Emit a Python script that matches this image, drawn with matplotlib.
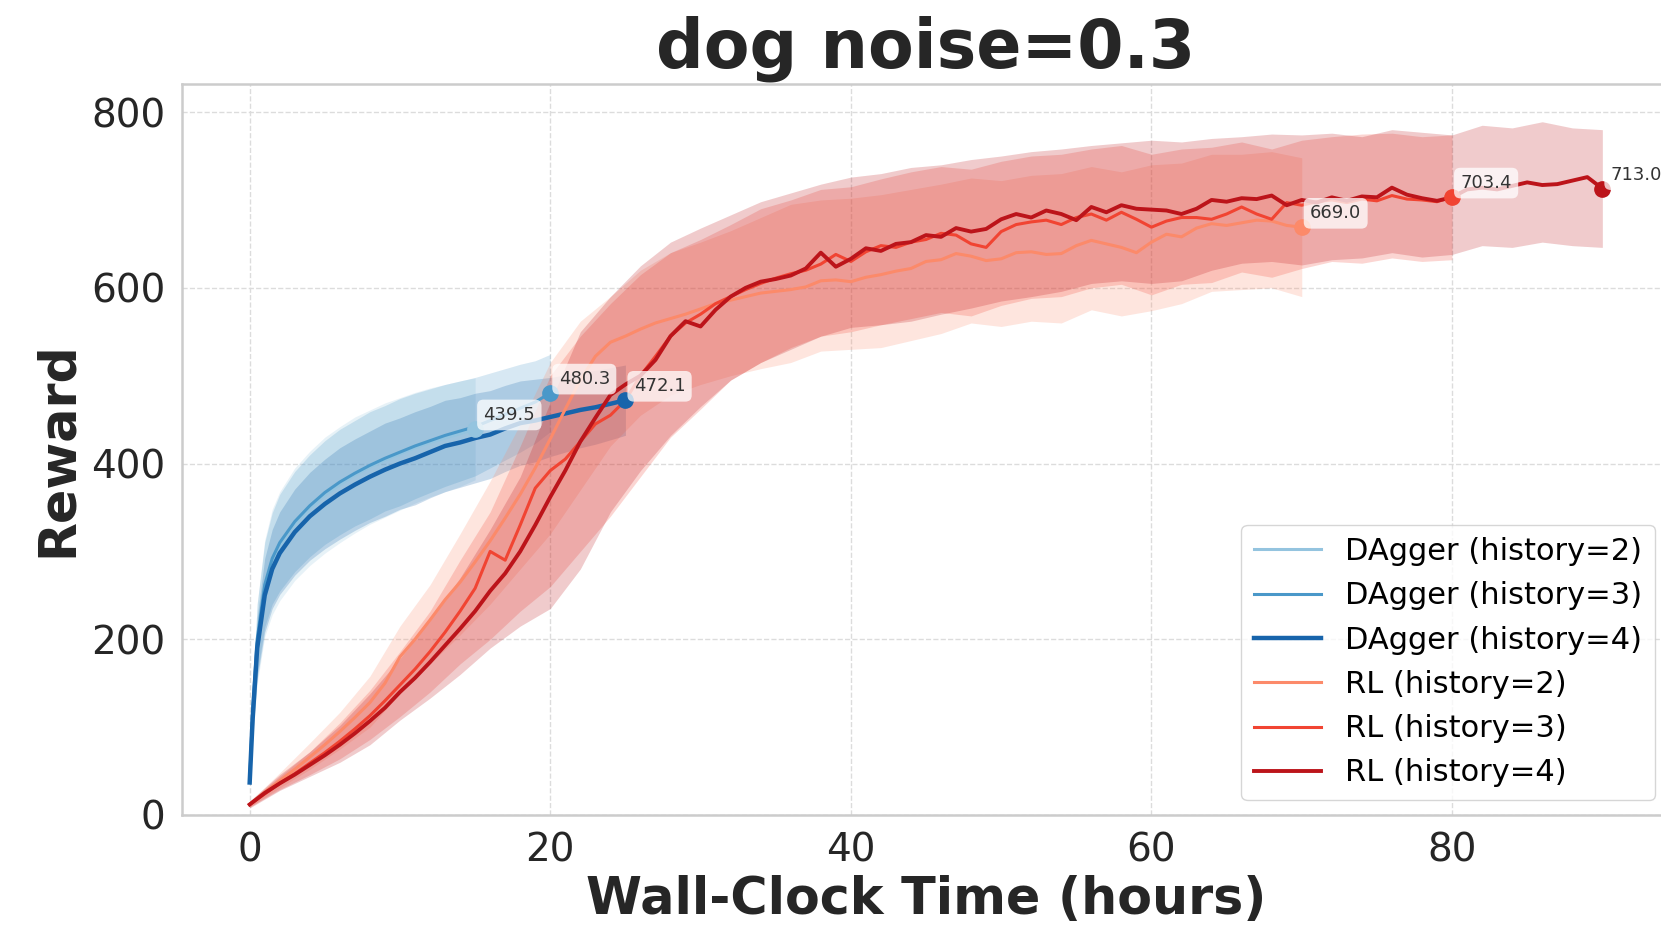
import numpy as np
import matplotlib
matplotlib.use("Agg")
import matplotlib.pyplot as plt

# ---- DAgger runs (mean reward, std over seeds) ----
dagger_t2 = [0, 0.2, 0.5, 1, 1.5] + list(range(2, 16))
dagger_m2 = [38, 115, 195, 258, 288, 306, 331, 349, 364, 376, 387, 396, 404, 411,
             418, 424, 429, 434, 439.5]
dagger_s2 = [6, 28, 46, 55, 60, 62, 64, 65, 66, 66, 66, 65, 65, 64, 63, 62, 61, 60, 58]

dagger_t3 = [0, 0.2, 0.5, 1, 1.5] + list(range(2, 21))
dagger_m3 = [40, 120, 200, 262, 292, 310, 334, 352, 367, 379, 389, 398, 406, 413,
             420, 426, 432, 437, 442, 449, 456, 463, 470, 480.3]
dagger_s3 = [5, 24, 40, 48, 52, 55, 57, 58, 59, 60, 60, 61, 60, 61, 60, 59, 58, 57,
             56, 54, 52, 50, 47, 44]

dagger_t4 = [0, 0.2, 0.5, 1, 1.5] + list(range(2, 26))
dagger_m4 = [37, 110, 190, 250, 280, 298, 322, 340, 354, 366, 376, 385, 393, 400,
             406, 413, 420, 424, 429, 433, 440, 446, 449, 453, 457, 461, 464, 468, 472.1]
dagger_s4 = [4, 20, 35, 42, 45, 47, 49, 50, 51, 52, 52, 52, 53, 52, 53, 52, 52, 51,
             51, 50, 49, 48, 47, 45, 44, 43, 42, 41, 40]

# ---- RL runs: hourly mean reward ----
rl_m2 = [12, 26, 39, 52, 66, 80, 95, 111, 128, 150, 180, 200, 222, 245, 265, 288,
         312, 338, 365, 395, 428, 462, 495, 522, 538, 545, 553, 560, 565, 570, 576,
         582, 586, 590, 594, 596, 598, 601, 608, 609, 607, 612, 615, 619, 622, 630,
         632, 639, 636, 631, 633, 640, 641, 638, 639, 648, 654, 650, 646, 640, 652,
         661, 658, 668, 673, 671, 674, 677, 676, 671, 669.0]
rl_m3 = [12, 24, 36, 47, 59, 71, 84, 98, 113, 130, 148, 166, 186, 208, 232, 258,
         300, 290, 330, 372, 392, 405, 425, 445, 455, 472, 500, 522, 545, 560, 570,
         582, 590, 598, 605, 611, 616, 620, 627, 638, 630, 641, 648, 646, 652, 655,
         662, 660, 650, 646, 664, 672, 675, 677, 672, 680, 684, 677, 686, 678, 669,
         676, 680, 680, 678, 684, 692, 684, 678, 697, 694, 698, 700, 697, 701, 699,
         705, 701, 700, 698, 703.4]
rl_m4 = [12, 25, 36, 46, 57, 68, 80, 93, 107, 122, 140, 156, 174, 193, 212, 232,
         255, 275, 300, 330, 362, 392, 425, 452, 478, 490, 500, 518, 545, 562, 556,
         575, 590, 600, 607, 610, 614, 622, 640, 624, 633, 645, 642, 650, 652, 660,
         658, 668, 664, 667, 678, 684, 680, 688, 684, 677, 692, 686, 694, 690, 689,
         688, 684, 690, 700, 698, 702, 701, 705, 694, 700, 697, 703, 699, 704, 703,
         714, 706, 702, 699, 703, 712, 714, 712, 716, 720, 717, 718, 722, 726, 713.0]

# ---- RL spread (lower / upper edge, every 2 hours) ----
rl_lo2 = [9, 31, 52, 75, 100, 138, 172, 205, 240, 280, 320, 370, 420, 455, 478,
          490, 500, 508, 515, 528, 530, 532, 540, 548, 560, 556, 562, 560, 575, 568,
          574, 582, 596, 598, 600, 590]
rl_hi2 = [15, 48, 82, 117, 158, 215, 262, 320, 380, 445, 515, 562, 590, 620, 640,
          652, 665, 680, 695, 700, 702, 706, 712, 718, 725, 722, 728, 730, 738, 732,
          740, 742, 752, 752, 755, 748]
rl_lo3 = [9, 29, 46, 64, 86, 112, 140, 172, 200, 232, 260, 300, 340, 385, 430,
          462, 495, 515, 532, 545, 550, 558, 565, 572, 568, 580, 588, 590, 600, 604,
          592, 604, 606, 618, 612, 622, 630, 628, 634, 630, 632]
rl_hi3 = [15, 44, 72, 105, 142, 186, 232, 290, 345, 420, 500, 545, 582, 615, 640,
          655, 672, 690, 700, 712, 715, 724, 732, 738, 735, 744, 750, 752, 758, 762,
          752, 758, 760, 766, 758, 768, 772, 775, 776, 772, 774]
rl_lo4 = [8, 28, 44, 60, 80, 108, 133, 160, 190, 215, 235, 280, 345, 392, 432,
          465, 495, 515, 530, 545, 555, 558, 562, 570, 577, 585, 590, 596, 605, 608,
          605, 608, 620, 628, 630, 626, 632, 634, 640, 635, 638, 648, 646, 652, 648,
          646]
rl_hi4 = [16, 46, 72, 102, 138, 178, 222, 270, 325, 385, 470, 550, 590, 625, 652,
          668, 683, 698, 708, 718, 726, 730, 737, 740, 746, 750, 755, 758, 762, 765,
          768, 766, 770, 772, 775, 774, 776, 772, 780, 777, 774, 785, 782, 789, 782,
          780]

blues = ["#94c4df", "#4a98c9", "#1764ab"]
reds = ["#fc8a6a", "#f14432", "#bc141a"]


def draw_run(ax, t, mean, t_band, lo, hi, color, label, lw):
    ax.fill_between(t_band, lo, hi, color=color, alpha=0.22, lw=0)
    ax.plot(t, mean, color=color, lw=lw, label=label)
    ax.plot(t[-1], mean[-1], "o", color=color, ms=11, zorder=4)
    ax.annotate(f"{mean[-1]:.1f}", (t[-1], mean[-1]), xytext=(6, 10),
                textcoords="offset points", fontsize=13, color="#333333",
                ha="left", va="center", zorder=5,
                bbox=dict(boxstyle="round,pad=0.35", fc="white", ec="none", alpha=0.75))


fig = plt.figure(figsize=(16.61, 9.31), dpi=100)
ax = fig.add_axes([0.1096, 0.1246, 0.8958, 0.7852])
ax.set_axisbelow(True)
ax.grid(True, ls="--", color="#dcdcdc", lw=1.0)

for t, m, s, c, h in [(dagger_t2, dagger_m2, dagger_s2, blues[0], 2),
                      (dagger_t3, dagger_m3, dagger_s3, blues[1], 3),
                      (dagger_t4, dagger_m4, dagger_s4, blues[2], 4)]:
    m_arr, s_arr = np.array(m), np.array(s)
    draw_run(ax, t, m, t, m_arr - s_arr, m_arr + s_arr, c,
             f"DAgger (history={h})", 3.2 if h == 4 else 2.2)

for m, lo, hi, c, h in [(rl_m2, rl_lo2, rl_hi2, reds[0], 2),
                        (rl_m3, rl_lo3, rl_hi3, reds[1], 3),
                        (rl_m4, rl_lo4, rl_hi4, reds[2], 4)]:
    hours = np.arange(len(m))
    band_hours = np.arange(len(lo)) * 2
    draw_run(ax, hours, m, band_hours, lo, hi, c, f"RL (history={h})",
             2.8 if h == 4 else 2.2)

ax.set_xlim(-4.5, 94.5)
ax.set_ylim(0, 832)
ax.set_xticks([0, 20, 40, 60, 80])
ax.set_yticks([0, 200, 400, 600, 800])
ax.tick_params(labelsize=28, length=0, pad=12, colors="#262626")
for sp in ax.spines.values():
    sp.set_color("#cccccc")
    sp.set_linewidth(1.8)

ax.set_title("dog noise=0.3", fontsize=48, fontweight="bold", pad=12, color="#262626")
ax.set_xlabel("Wall-Clock Time (hours)", fontsize=36.5, fontweight="bold",
              color="#262626", labelpad=4)
ax.set_ylabel("Reward", fontsize=36.5, fontweight="bold", color="#262626", labelpad=6)

ax.legend(loc="lower right", fontsize=22, handlelength=2.2, framealpha=0.8,
          edgecolor="#cccccc", fancybox=True)

fig.savefig("out.png", dpi=100)
